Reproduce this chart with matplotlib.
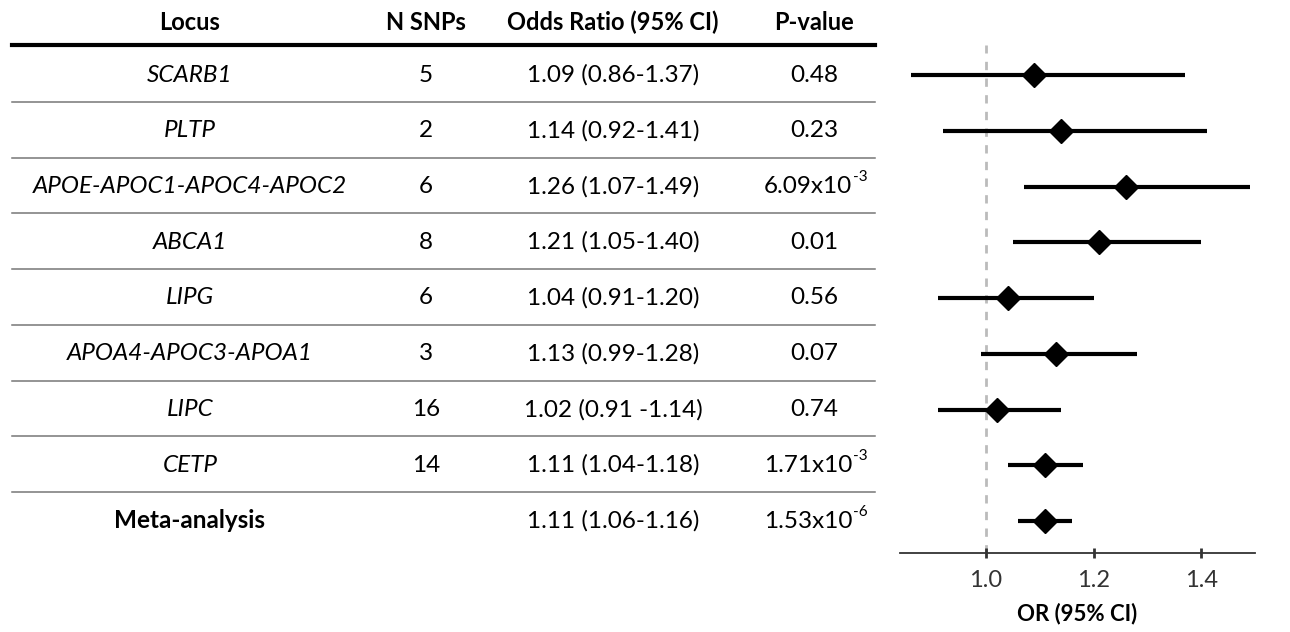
import matplotlib.pyplot as plt
import numpy as np

plt.rcParams['font.family'] = ['Lato', 'DejaVu Sans']

loci = ['SCARB1', 'PLTP', 'APOE-APOC1-APOC4-APOC2', 'ABCA1', 'LIPG',
        'APOA4-APOC3-APOA1', 'LIPC', 'CETP', 'Meta-analysis']
n_snps = ['5', '2', '6', '8', '6', '3', '16', '14', '']
odds = [1.09, 1.14, 1.26, 1.21, 1.04, 1.13, 1.02, 1.11, 1.11]
ci_low = [0.86, 0.92, 1.07, 1.05, 0.91, 0.99, 0.91, 1.04, 1.06]
ci_high = [1.37, 1.41, 1.49, 1.40, 1.20, 1.28, 1.14, 1.18, 1.16]
or_labels = ['1.09 (0.86-1.37)', '1.14 (0.92-1.41)', '1.26 (1.07-1.49)',
             '1.21 (1.05-1.40)', '1.04 (0.91-1.20)', '1.13 (0.99-1.28)',
             '1.02 (0.91 -1.14)', '1.11 (1.04-1.18)', '1.11 (1.06-1.16)']
p_base = ['0.48', '0.23', '6.09x10', '0.01', '0.56', '0.07', '0.74',
          '1.71x10', '1.53x10']
p_exp = ['', '', '-3', '', '', '', '', '-3', '-6']

W, H = 1290, 632
fig = plt.figure(figsize=(W / 100, H / 100), dpi=100)

# row geometry in pixels
row0, step = 75, 55.75
rows = np.arange(len(loci))

# table axes: x in pixels, y in row units
tab = fig.add_axes([0, 0, 1, 1])
tab.set_xlim(0, W)
tab.set_ylim((H - row0) / step, -row0 / step)
tab.axis('off')

fs = 17.5
col_x = [190, 426, 613, 814]
headers = ['Locus', 'N SNPs', 'Odds Ratio (95% CI)', 'P-value']
for x, h in zip(col_x, headers):
    tab.text(x, (22 - row0) / step, h, ha='center', va='center',
             fontsize=17, fontweight='bold')
tab.plot([12, 875], [-0.54, -0.54], color='black', lw=3)

for i in rows:
    meta = loci[i] == 'Meta-analysis'
    tab.text(col_x[0], i, loci[i], ha='center', va='center', fontsize=fs,
             style='normal' if meta else 'italic',
             fontweight='bold' if meta else 'normal')
    tab.text(col_x[1], i, n_snps[i], ha='center', va='center', fontsize=fs)
    tab.text(col_x[2], i, or_labels[i], ha='center', va='center', fontsize=fs)
    if p_exp[i]:
        # base + small raised exponent (hyphen, as in the source table)
        t = tab.text(col_x[3] - 6, i, p_base[i], ha='center', va='center',
                     fontsize=fs)
        tab.annotate(p_exp[i], xy=(1, 1), xycoords=t, xytext=(0.5, -1),
                     textcoords='offset points', ha='left', va='center',
                     fontsize=11)
    else:
        tab.text(col_x[3], i, p_base[i], ha='center', va='center', fontsize=fs)
    if i < len(loci) - 1:
        tab.plot([12, 875], [i + 0.48, i + 0.48], color='#777777', lw=1.1)

# forest plot axes
x0, x1 = 900, 1255
ybot, ytop = 553, 45
ax = fig.add_axes([x0 / W, 1 - ybot / H, (x1 - x0) / W, (ybot - ytop) / H])
ax.set_xlim(0.84, 1.5)
ax.set_ylim((ybot - row0) / step, (ytop - row0) / step)
ax.axvline(1.0, color='#bbbbbb', lw=2, ls=(0, (3, 3)), zorder=1)
ax.hlines(rows, ci_low, ci_high, color='black', lw=3, zorder=2)
ax.plot(odds, rows, 'D', color='black', ms=12, zorder=3)

for s in ['top', 'right', 'left']:
    ax.spines[s].set_visible(False)
ax.spines['bottom'].set_color('#333333')
ax.spines['bottom'].set_linewidth(1.3)
ax.set_yticks([])
ax.set_xticks([1.0, 1.2, 1.4])
ax.set_xticklabels(['1.0', '1.2', '1.4'])
ax.tick_params(axis='x', direction='inout', length=7, width=2,
               color='#333333', labelsize=17, labelcolor='#333333', pad=9)
ax.set_xlabel('OR (95% CI)', fontsize=16, fontweight='bold', labelpad=8)
ax.patch.set_alpha(0)

fig.savefig('out.png', dpi=100)
